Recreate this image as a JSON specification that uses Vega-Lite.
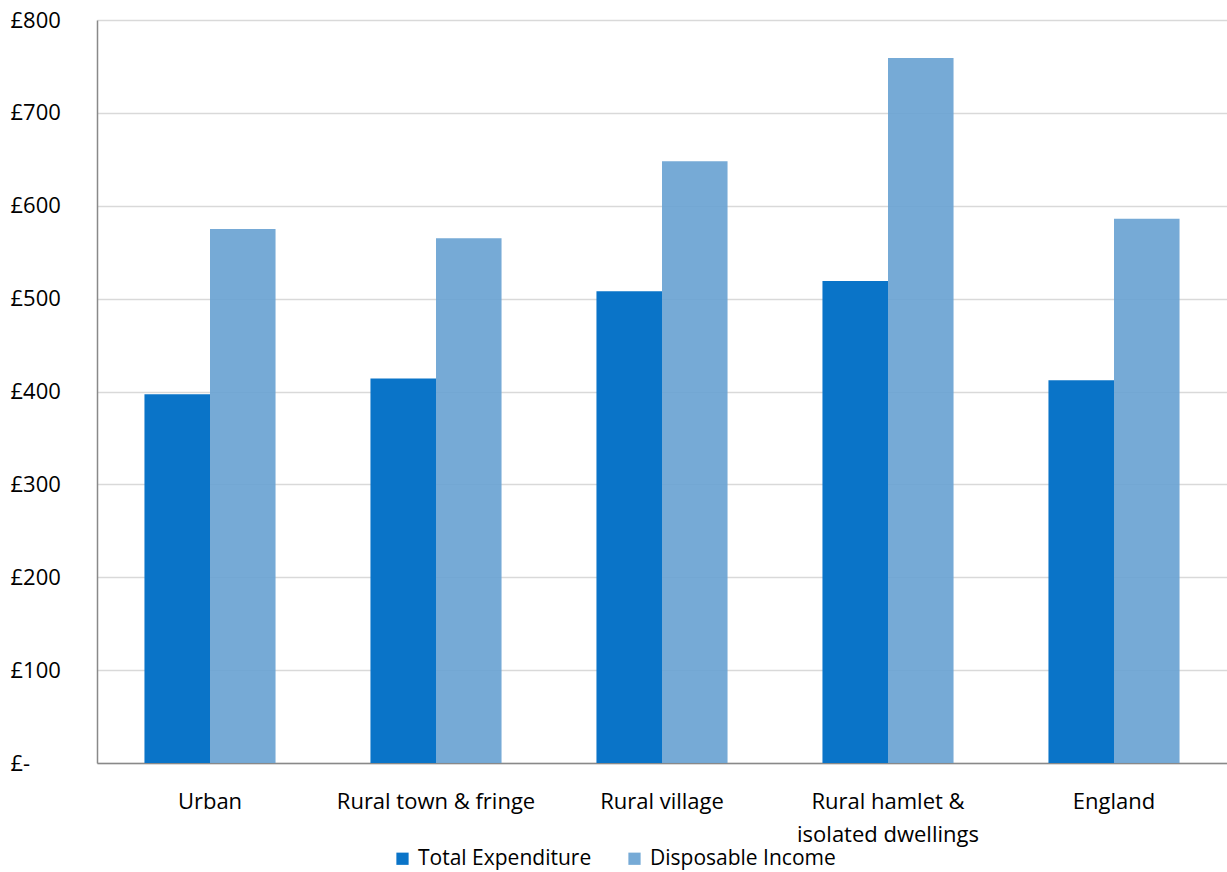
{
  "$schema": "https://vega.github.io/schema/vega-lite/v6.json",
  "width": 1130,
  "height": 743,
  "autosize": {"type": "none"},
  "padding": {"left": 97, "top": 20, "right": 0, "bottom": 109},
  "background": "white",
  "data": {
    "values": [
      {"area": "Urban", "series": "Total Expenditure", "value": 397},
      {"area": "Urban", "series": "Disposable Income", "value": 575},
      {"area": "Rural town & fringe", "series": "Total Expenditure", "value": 414},
      {"area": "Rural town & fringe", "series": "Disposable Income", "value": 565},
      {"area": "Rural village", "series": "Total Expenditure", "value": 508},
      {"area": "Rural village", "series": "Disposable Income", "value": 648},
      {"area": "Rural hamlet & isolated dwellings", "series": "Total Expenditure", "value": 519},
      {"area": "Rural hamlet & isolated dwellings", "series": "Disposable Income", "value": 759},
      {"area": "England", "series": "Total Expenditure", "value": 412},
      {"area": "England", "series": "Disposable Income", "value": 586}
    ]
  },
  "config": {
    "font": "Open Sans",
    "view": {"stroke": null}
  },
  "mark": {"type": "bar"},
  "encoding": {
    "x": {
      "field": "area",
      "type": "nominal",
      "sort": null,
      "scale": {"paddingInner": 0.42, "paddingOuter": 0.21},
      "axis": {
        "title": null,
        "labelAngle": 0,
        "labelFontSize": 22,
        "labelLimit": 0,
        "labelColor": "#000000",
        "labelPadding": 28,
        "labelLineHeight": 33,
        "labelBaseline": "top",
        "ticks": false,
        "domainColor": "#898989",
        "domainWidth": 1.5,
        "grid": false,
        "labelExpr": "datum.label == 'Rural hamlet & isolated dwellings' ? ['Rural hamlet &', 'isolated dwellings'] : datum.label"
      }
    },
    "xOffset": {
      "field": "series",
      "type": "nominal",
      "sort": ["Total Expenditure", "Disposable Income"],
      "scale": {"paddingInner": 0, "paddingOuter": 0}
    },
    "y": {
      "field": "value",
      "type": "quantitative",
      "scale": {"domain": [0, 800], "nice": false},
      "axis": {
        "title": null,
        "values": [0, 100, 200, 300, 400, 500, 600, 700, 800],
        "labelFontSize": 22,
        "labelLimit": 0,
        "labelColor": "#000000",
        "labelAlign": "left",
        "labelPadding": 87,
        "ticks": false,
        "domainColor": "#898989",
        "domainWidth": 1.5,
        "gridColor": "#d9d9d9",
        "gridWidth": 1.5,
        "labelExpr": "datum.value == 0 ? '£-' : '£' + datum.value"
      }
    },
    "color": {
      "field": "series",
      "type": "nominal",
      "sort": ["Total Expenditure", "Disposable Income"],
      "scale": {"domain": ["Total Expenditure", "Disposable Income"], "range": ["#0a74c8", "#6aa3d2"]},
      "legend": {
        "title": null,
        "orient": "none",
        "direction": "horizontal",
        "legendX": 295,
        "legendY": 828,
        "symbolType": "square",
        "symbolSize": 150,
        "symbolStrokeWidth": 0,
        "symbolOpacity": 1,
        "labelFontSize": 21,
        "labelLimit": 0,
        "labelColor": "#000000",
        "labelOffset": 5,
        "columnPadding": 32
      }
    },
    "opacity": {
      "field": "series",
      "type": "nominal",
      "scale": {"domain": ["Total Expenditure", "Disposable Income"], "range": [1, 0.92]},
      "legend": null
    }
  }
}
